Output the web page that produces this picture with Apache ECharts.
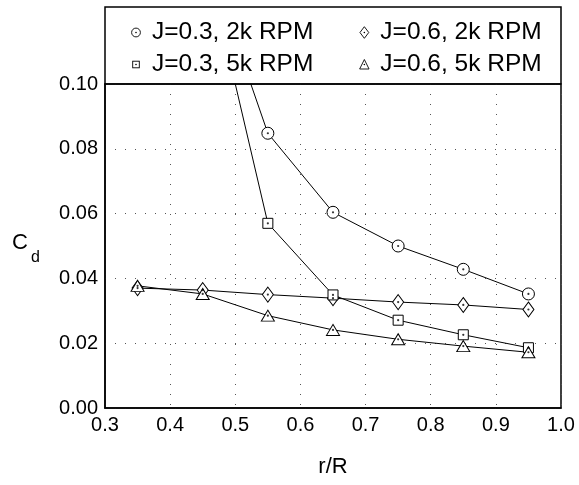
<!DOCTYPE html>
<html><head><meta charset="utf-8">
<script src="https://cdn.jsdelivr.net/npm/echarts@6/dist/echarts.min.js"></script>
<style>html,body{margin:0;padding:0;background:#fff}#c{width:579px;height:485px}</style>
</head><body><div id="c"></div>
<script>
// Data
var xTicks = [0.3, 0.4, 0.5, 0.6, 0.7, 0.8, 0.9, 1.0];
var yTicks = [0.00, 0.02, 0.04, 0.06, 0.08, 0.10];
var rJ03 = [0.45, 0.55, 0.65, 0.75, 0.85, 0.95];
var cdJ03_2k = [0.143, 0.0848, 0.0604, 0.0500, 0.0428, 0.0352];
var cdJ03_5k = [0.143, 0.0570, 0.0349, 0.0271, 0.0226, 0.0186];
var rJ06 = [0.35, 0.45, 0.55, 0.65, 0.75, 0.85, 0.95];
var cdJ06_2k = [0.0370, 0.0364, 0.0350, 0.0339, 0.0327, 0.0318, 0.0304];
var cdJ06_5k = [0.0377, 0.0352, 0.0285, 0.0241, 0.0212, 0.0191, 0.0172];
var names = ['J=0.3, 2k RPM', 'J=0.6, 2k RPM', 'J=0.3, 5k RPM', 'J=0.6, 5k RPM'];

function pairs(xs, ys) { return xs.map(function (x, i) { return [x, ys[i]]; }); }

function svgIcon(inner) {
  var s = "<svg xmlns='http://www.w3.org/2000/svg' width='12' height='14' viewBox='0 0 12 14'>" + inner +
    "<circle cx='6' cy='7' r='0.8' fill='black'/></svg>";
  return 'image://data:image/svg+xml;charset=utf-8,' + encodeURIComponent(s);
}
var iconCircle = svgIcon("<circle cx='6' cy='7' r='4.4' fill='white' stroke='black' stroke-width='0.9'/>");
var iconSquare = svgIcon("<rect x='2.7' y='3.7' width='6.6' height='6.6' fill='white' stroke='black' stroke-width='0.9'/>");
var iconDiamond = svgIcon("<path d='M6 1.2 L10.4 7 L6 12.8 L1.6 7 Z' fill='white' stroke='black' stroke-width='0.9'/>");
var iconTri = svgIcon("<path d='M6 2 L10.7 11.5 L1.3 11.5 Z' fill='white' stroke='black' stroke-width='0.9'/>");

var FONT = '"Liberation Sans", Arial, sans-serif';

function mainSeries(name, data, symbol, size) {
  return {
    name: name, type: 'line', data: data, symbol: symbol, symbolSize: size,
    showAllSymbol: true, clip: true,
    lineStyle: { color: '#000', width: 1 },
    itemStyle: { color: '#fff', borderColor: '#000', borderWidth: 1 },
    emphasis: { disabled: true }, z: 3, animation: false
  };
}
function dotSeries(data) {
  return {
    type: 'scatter', data: data, symbol: 'circle', symbolSize: 2.2, clip: true,
    itemStyle: { color: '#000' }, silent: true, z: 4, animation: false
  };
}

var chart = echarts.init(document.getElementById('c'), null, { renderer: 'canvas' });
var legendCommon = {
  orient: 'horizontal', itemWidth: 12, itemHeight: 14, itemGap: 45, padding: 0,
  textStyle: { fontFamily: FONT, fontSize: 24.5, color: '#000', padding: [0, 0, 0, 5] },
  selectedMode: false
};
chart.setOption({
  animation: false,
  textStyle: { fontFamily: FONT },
  grid: { left: 105, right: 18, top: 84, bottom: 77, show: true, borderColor: '#000', borderWidth: 1.5, containLabel: false },
  legend: [
    Object.assign({}, legendCommon, { left: 130, top: 20, data: [{ name: names[0], icon: iconCircle }, { name: names[1], icon: iconDiamond }] }),
    Object.assign({}, legendCommon, { left: 130, top: 52, data: [{ name: names[2], icon: iconSquare }, { name: names[3], icon: iconTri }] })
  ],
  xAxis: {
    type: 'value', min: xTicks[0], max: xTicks[xTicks.length - 1], interval: 0.1,
    name: 'r/R', nameLocation: 'middle', nameGap: 48,
    nameTextStyle: { fontFamily: FONT, fontSize: 22, color: '#000' },
    axisLine: { show: true, lineStyle: { color: '#000', width: 1.5 } },
    axisTick: { show: false },
    axisLabel: { fontFamily: FONT, fontSize: 20, color: '#000', margin: 7, formatter: function (v) { return v.toFixed(1); } },
    splitLine: { show: true, lineStyle: { color: '#555', width: 1, type: [1, 9] } }
  },
  yAxis: {
    type: 'value', min: yTicks[0], max: yTicks[yTicks.length - 1], interval: 0.02,
    axisLine: { show: true, lineStyle: { color: '#000', width: 1.5 } },
    axisTick: { show: false },
    axisLabel: { fontFamily: FONT, fontSize: 20, color: '#000', margin: 7, formatter: function (v) { return v.toFixed(2); } },
    splitLine: { show: true, lineStyle: { color: '#555', width: 1, type: [1, 9] } }
  },
  graphic: [
    { type: 'rect', shape: { x: 105, y: 7, width: 456, height: 77 }, style: { fill: 'none', stroke: '#000', lineWidth: 1.5 }, silent: true, z: 10 },
    { type: 'text', x: 12, y: 243, style: { text: 'C', font: '22px ' + FONT, fill: '#000', verticalAlign: 'middle', align: 'left' } },
    { type: 'text', x: 31, y: 258, style: { text: 'd', font: '16px ' + FONT, fill: '#000', verticalAlign: 'middle', align: 'left' } }
  ],
  series: [
    mainSeries(names[0], pairs(rJ03, cdJ03_2k), 'circle', 12),
    mainSeries(names[1], pairs(rJ06, cdJ06_2k), 'diamond', [11, 15]),
    mainSeries(names[2], pairs(rJ03, cdJ03_5k), 'rect', 10),
    mainSeries(names[3], pairs(rJ06, cdJ06_5k), 'triangle', [13, 11]),
    dotSeries(pairs(rJ03, cdJ03_2k)),
    dotSeries(pairs(rJ06, cdJ06_2k)),
    dotSeries(pairs(rJ03, cdJ03_5k)),
    dotSeries(pairs(rJ06, cdJ06_5k))
  ]
});
</script></body></html>
